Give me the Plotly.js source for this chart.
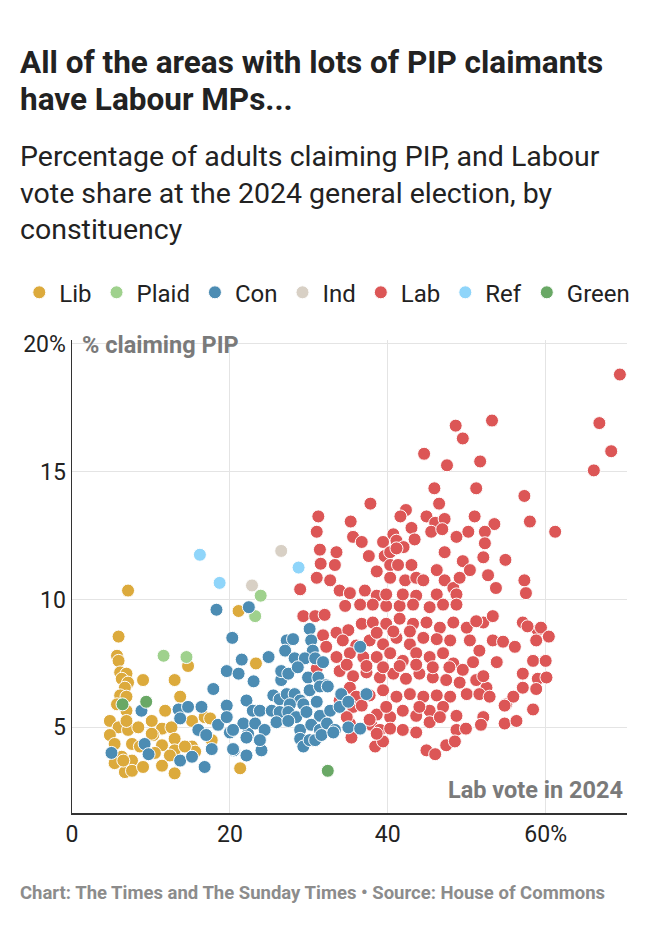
<!DOCTYPE html>
<html>
<head>
<meta charset="utf-8">
<script src="https://cdn.plot.ly/plotly-3.0.1.min.js"></script>
<style>
  html, body { margin: 0; padding: 0; background: #fff; }
  #chart { width: 650px; height: 934px; }
</style>
</head>
<body>
<div id="chart"></div>
<script>
// values: x = Labour vote share 2024 (%), y = % of adults claiming PIP
const libX = [7.1, 5.9, 5.7, 5.9, 6.1, 6.9, 6.3, 7.1, 6.7, 9.0, 13.0, 14.7, 6.1, 6.9, 5.7, 6.9, 13.7, 11.8, 4.8, 5.9,
  4.8, 7.1, 8.4, 11.4, 12.6, 15.2, 16.8, 10.3, 13.0, 5.4, 7.6, 8.6, 11.4, 13.0, 15.2, 6.3, 7.6, 10.5, 12.4, 15.6,
  14.3, 5.4, 6.7, 7.6, 9.0, 11.4, 13.0, 21.1, 23.3, 21.3, 17.5, 17.7, 10.1, 6.5, 10.1, 6.9]
const libY = [10.35, 8.55, 7.8, 7.6, 7.15, 7.1, 6.9, 6.75, 6.55, 6.85, 6.85, 7.4, 6.25, 6.2, 5.9, 5.65, 6.2, 5.65, 5.25, 5.0,
  4.7, 4.9, 5.0, 4.95, 5.0, 5.25, 5.4, 4.7, 4.55, 4.35, 4.35, 4.25, 4.3, 4.1, 4.25, 3.85, 3.7, 4.0, 3.9, 4.05,
  4.25, 3.6, 3.25, 3.3, 3.45, 3.5, 3.2, 9.55, 7.5, 3.4, 5.35, 4.5, 4.75, 3.7, 5.25, 5.25]

const plaidX = [11.6, 14.5, 23.9, 23.2]
const plaidY = [7.8, 7.75, 10.15, 9.35]

const conX = [18.3, 22.4, 20.3, 21.5, 19.6, 21.1, 17.9, 23.0, 8.8, 13.5, 14.7, 16.4, 13.7, 19.6, 18.5, 19.6, 22.1, 22.9,
  16.0, 17.0, 20.0, 22.3, 9.2, 5.0, 9.7, 13.7, 15.2, 17.7, 16.8, 20.5, 22.1, 24.9, 26.5, 27.2, 28.0, 30.1, 30.3, 30.5,
  27.0, 28.2, 29.5, 30.8, 31.8, 26.5, 27.4, 28.6, 29.9, 31.2, 32.2, 30.1, 31.4, 32.4, 34.1, 37.3, 36.5, 25.5, 26.3,
  27.2, 28.2, 28.9, 29.3, 27.6, 23.8, 25.3, 26.3, 27.4, 28.4, 29.7, 31.0, 31.4, 32.7, 33.9, 35.0, 21.7, 23.2, 24.4,
  25.9, 27.4, 28.9, 30.3, 31.4, 32.3, 33.3, 35.0, 36.5, 20.4, 22.1, 24.0, 20.4, 28.9, 29.3, 30.1, 30.8, 31.6, 33.1, 23.8]
const conY = [9.6, 9.7, 8.5, 7.65, 7.2, 7.1, 6.5, 6.8, 5.65, 5.7, 5.8, 5.8, 5.35, 5.85, 5.1, 5.4, 6.05, 5.65,
  4.9, 4.7, 4.8, 4.75, 4.35, 4.0, 3.95, 3.7, 3.85, 4.15, 3.45, 4.1, 3.9, 7.75, 6.85, 8.4, 8.45, 8.85, 8.4, 8.0,
  8.0, 7.7, 7.7, 7.7, 7.55, 7.2, 7.1, 7.35, 6.95, 6.95, 6.65, 6.45, 6.6, 6.6, 6.3, 6.3, 8.15, 6.25, 6.1,
  6.3, 6.3, 6.05, 5.9, 5.9, 5.65, 5.65, 5.6, 5.6, 5.4, 5.6, 6.0, 5.45, 5.65, 5.8, 6.0, 5.15, 5.15, 4.9,
  5.2, 5.25, 4.9, 5.1, 4.9, 5.15, 4.9, 5.0, 4.95, 4.9, 4.6, 4.1, 4.15, 4.55, 4.25, 4.5, 4.5, 4.7, 4.8, 4.5]

const indX = [26.5, 22.8]
const indY = [11.9, 10.55]

const labX = [69.4, 48.6, 53.2, 49.5, 44.6, 47.5, 51.7, 66.8, 68.3, 66.1, 45.9, 51.2, 46.5, 57.3, 37.8, 31.2, 31.0,
  35.3, 42.3, 41.6, 44.9, 46.0, 47.2, 51.0, 53.5, 58.0, 61.2, 43.0, 45.5, 46.9, 48.7, 50.2, 52.3, 35.6, 36.7, 39.4,
  40.7, 41.1, 42.0, 43.4, 31.4, 33.5, 37.6, 39.6, 40.3, 41.1, 47.2, 52.3, 52.1, 54.9, 31.5, 33.3, 38.6, 40.3, 41.3,
  43.0, 49.5, 50.4, 57.3, 57.5, 53.7, 52.7, 31.0, 32.7, 33.9, 35.2, 37.1, 38.6, 40.3, 42.2, 43.6, 44.5, 46.2, 47.2,
  48.3, 49.1, 28.9, 43.6, 46.2, 48.7, 29.3, 30.8, 32.0, 34.6, 36.5, 38.1, 39.8, 41.5, 43.2, 45.3, 47.0, 48.7, 52.1,
  53.3, 57.1, 59.0, 33.5, 35.0, 36.7, 38.1, 39.8, 41.5, 43.2, 44.9, 46.6, 48.3, 50.0, 51.2, 31.8, 34.3, 36.0, 37.7,
  39.4, 41.1, 42.8, 44.5, 46.2, 47.9, 50.4, 51.6, 53.3, 54.6, 56.1, 58.4, 58.8, 32.2, 33.5, 35.2, 36.9, 38.6, 40.3,
  41.9, 43.6, 45.3, 47.0, 48.3, 49.5, 50.8, 53.8, 57.1, 59.0, 60.1, 33.9, 35.6, 37.3, 39.0, 40.7, 42.3, 44.0, 45.7,
  47.4, 49.1, 51.2, 52.5, 57.1, 58.8, 35.2, 36.0, 37.7, 39.4, 41.1, 42.8, 44.5, 46.2, 47.9, 50.0, 51.6, 52.9, 55.0,
  55.9, 33.9, 35.6, 36.7, 38.6, 40.3, 41.9, 43.6, 45.3, 47.0, 48.7, 52.1, 54.8, 58.4, 35.2, 37.9, 39.0, 40.3, 41.9,
  43.6, 45.3, 46.6, 48.7, 49.9, 51.8, 54.8, 56.3, 35.4, 38.4, 39.4, 44.9, 46.0, 47.4, 48.5, 38.6, 31.0, 59.4, 60.4,
  60.0, 39.8, 41.9, 38.6, 40.7, 42.8, 34.8, 37.3, 39.4, 41.5, 43.6, 45.7, 39.8, 44.0, 34.8, 37.7, 47.8, 52.1, 57.7]
const labY = [18.8, 16.8, 17.0, 16.3, 15.7, 15.25, 15.4, 16.9, 15.8, 15.05, 14.35, 14.35, 13.75, 14.05, 13.75, 13.25, 12.65,
  13.05, 13.5, 13.25, 13.25, 13.0, 13.15, 13.25, 12.95, 13.05, 12.65, 12.8, 12.65, 12.75, 12.45, 12.65, 12.65, 12.45, 12.25, 12.25,
  12.55, 12.3, 12.05, 12.35, 11.95, 11.85, 11.7, 11.7, 11.85, 12.0, 11.85, 12.2, 11.65, 11.55, 11.4, 11.35, 11.1, 11.35, 11.35,
  11.35, 11.5, 11.15, 10.75, 10.25, 10.45, 10.95, 10.85, 10.75, 10.35, 10.25, 10.35, 10.15, 10.85, 10.75, 10.85, 10.75, 11.15, 10.75,
  10.45, 10.85, 10.4, 10.15, 10.2, 10.2, 9.35, 9.35, 9.4, 9.75, 9.8, 9.8, 9.75, 9.75, 9.8, 9.7, 9.8, 9.8, 9.1,
  9.35, 9.1, 8.8, 8.7, 8.8, 9.05, 9.1, 9.05, 9.25, 9.05, 9.1, 8.9, 9.1, 8.9, 9.15, 8.6, 8.4, 8.2, 8.4,
  8.25, 8.5, 8.25, 8.5, 8.45, 8.4, 8.4, 8.0, 8.4, 8.35, 8.15, 7.6, 8.4, 8.15, 7.75, 7.9, 7.75, 7.75, 7.9,
  7.6, 7.9, 7.75, 7.9, 7.5, 7.25, 7.55, 7.55, 7.1, 6.9, 6.95, 7.2, 7.0, 7.15, 6.95, 7.1, 6.9, 7.1, 6.95,
  6.85, 6.75, 6.85, 6.55, 6.55, 6.5, 6.55, 6.2, 6.25, 6.45, 6.2, 6.3, 6.2, 6.25, 6.2, 6.3, 6.3, 6.2, 5.9,
  6.2, 6.05, 5.8, 5.85, 5.5, 5.4, 5.65, 5.45, 5.65, 5.8, 5.45, 5.4, 5.85, 5.7, 5.15, 5.1, 4.9, 4.95, 4.9,
  4.8, 5.2, 5.4, 4.9, 4.95, 5.1, 5.15, 5.25, 4.6, 4.25, 4.45, 4.1, 3.95, 4.3, 4.45, 4.75, 7.3, 8.9, 8.55,
  7.6, 10.2, 10.2, 8.7, 8.75, 8.75, 7.45, 7.4, 7.35, 7.4, 7.45, 7.35, 5.8, 5.8, 5.4, 5.3, 7.35, 7.0, 8.95]

const refX = [16.2, 18.7, 28.7]
const refY = [11.75, 10.65, 11.25]

const greenX = [6.4, 9.4, 32.4]
const greenY = [5.9, 6.0, 3.3]

const xTicks = [0, 20, 40, 60]
const xTickText = ['0', '20', '40', '60%']
const yTicks = [5, 10, 15, 20]
const yTickText = ['5', '10', '15', '20%']

window.addEventListener('load', () => {
  drawChart()
})

function party (name, xs, ys, color, rank) {
  return {
    type: 'scatter',
    mode: 'markers',
    name: name,
    x: xs,
    y: ys,
    legendrank: rank,
    hoverinfo: 'name+x+y',
    marker: { color: color, size: 13, line: { color: '#fff', width: 1 } }
  }
}

function drawChart () {
  // Lab goes first so the smaller parties sit on top of the red cloud
  const data = [
    party('Lab', labX, labY, '#dc5656', 5),
    party('Lib', libX, libY, '#dcaa3c', 1),
    party('Plaid', plaidX, plaidY, '#9fd18d', 2),
    party('Con', conX, conY, '#4c8cb3', 3),
    party('Ind', indX, indY, '#d8d0c5', 4),
    party('Ref', refX, refY, '#8fd5fa', 6),
    party('Green', greenX, greenY, '#69a865', 7)
  ]

  const grey = '#7a7a7a'
  const ink = '#222'
  const font = 'Roboto, "Open Sans", sans-serif'

  function line (text, y, size, weight, color) {
    return {
      text: text, xref: 'paper', yref: 'paper', x: -0.0975, y: y,
      xanchor: 'left', yanchor: 'middle', showarrow: false,
      font: { family: font, size: size, weight: weight, color: color }
    }
  }

  const layout = {
    width: 650,
    height: 934,
    margin: { l: 72, r: 23, t: 340, b: 121 },
    paper_bgcolor: '#fff',
    plot_bgcolor: '#fff',
    font: { family: font, color: ink },
    showlegend: true,
    legend: {
      orientation: 'h',
      x: -0.095,
      xanchor: 'left',
      y: 1.1,
      yanchor: 'middle',
      font: { size: 24, color: ink },
      itemclick: false,
      traceorder: 'normal'
    },
    xaxis: {
      range: [0, 70.3],
      tickvals: xTicks,
      ticktext: xTickText,
      tickfont: { size: 23, color: ink },
      showgrid: true,
      gridcolor: '#e4e4e4',
      zeroline: false,
      showline: true,
      linecolor: '#333',
      linewidth: 1.5,
      ticks: '',
      fixedrange: true
    },
    yaxis: {
      range: [1.65, 20.15],
      tickvals: yTicks,
      ticktext: yTickText,
      tickfont: { size: 23, color: ink },
      showgrid: true,
      gridcolor: '#e4e4e4',
      zeroline: false,
      showline: true,
      linecolor: '#333',
      linewidth: 1.5,
      ticks: '',
      fixedrange: true
    },
    annotations: [
      line('All of the areas with lots of PIP claimants', 1.5877, 31.5, 'bold', ink),
      line('have Labour MPs...', 1.5074, 31.5, 'bold', ink),
      line('Percentage of adults claiming PIP, and Labour', 1.3869, 28.5, 'normal', ink),
      line('vote share at the 2024 general election, by', 1.3087, 28.5, 'normal', ink),
      line('constituency', 1.2326, 28.5, 'normal', ink),
      line('Chart: The Times and The Sunday Times \u2022 Source: House of Commons', -0.1691, 18.5, 'bold', '#8c8c8c'),
      {
        text: '% claiming PIP', xref: 'paper', yref: 'paper', x: 0.015, y: 0.99,
        xanchor: 'left', yanchor: 'middle', showarrow: false,
        font: { family: font, size: 23.5, weight: 'bold', color: grey }
      },
      {
        text: 'Lab vote in 2024', xref: 'paper', yref: 'paper', x: 0.9965, y: 0.049,
        xanchor: 'right', yanchor: 'middle', showarrow: false,
        font: { family: font, size: 23.5, weight: 'bold', color: grey }
      }
    ]
  }

  Plotly.newPlot('chart', data, layout, { displayModeBar: false, staticPlot: true })
}
</script>
</body>
</html>
